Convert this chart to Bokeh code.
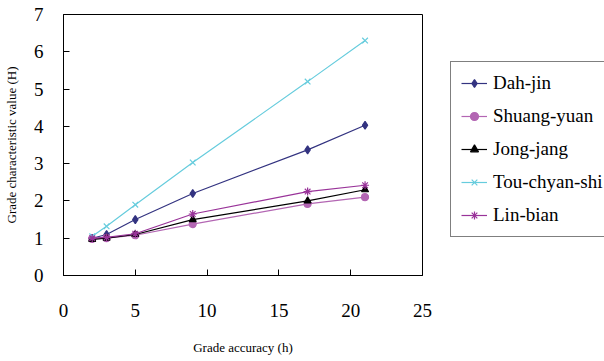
from bokeh.plotting import figure
from bokeh.models import Range1d, FixedTicker, Legend, LegendItem
from bokeh.embed import file_html
from bokeh.resources import INLINE

x_vals = [2, 3, 5, 9, 17, 21]
dah_jin = [1.00, 1.10, 1.50, 2.20, 3.37, 4.03]
shuang_yuan = [0.98, 1.00, 1.08, 1.38, 1.92, 2.10]
jong_jang = [0.97, 1.00, 1.10, 1.50, 2.00, 2.30]
tou_chyan_shi = [1.05, 1.32, 1.90, 3.03, 5.20, 6.30]
lin_bian = [1.00, 1.02, 1.12, 1.65, 2.25, 2.42]

series_names = ["Dah-jin", "Shuang-yuan", "Jong-jang", "Tou-chyan-shi", "Lin-bian"]
series_vals = [dah_jin, shuang_yuan, jong_jang, tou_chyan_shi, lin_bian]
colors = ["#333380", "#b366b3", "#000000", "#66ccdd", "#993399"]
markers = ["diamond", "circle", "triangle", "x", "asterisk"]
sizes = [8, 7, 7, 8, 8]

x_ticks = [0, 5, 10, 15, 20, 25]
y_ticks = [0, 1, 2, 3, 4, 5, 6, 7]

FONT = "Liberation Serif"

p = figure(frame_width=359, frame_height=261, output_backend="svg", toolbar_location=None,
           x_range=Range1d(0, 25), y_range=Range1d(0, 7),
           min_border_left=62, min_border_right=0, min_border_top=14,
           min_border_bottom=70)
p.grid.visible = False
p.outline_line_color = "black"
p.outline_line_width = 1
p.background_fill_color = "white"
p.border_fill_color = "white"

p.xaxis.ticker = FixedTicker(ticks=x_ticks)
p.yaxis.ticker = FixedTicker(ticks=y_ticks)
for ax in (p.xaxis, p.yaxis):
    ax.axis_line_color = "black"
    ax.major_tick_in = 6
    ax.major_tick_out = 0
    ax.minor_tick_line_color = None
    ax.major_tick_line_color = "black"
    ax.major_label_text_font = FONT
    ax.major_label_text_font_size = "19px"
    ax.major_label_text_color = "black"
    ax.axis_label_text_font = FONT
    ax.axis_label_text_font_size = "13px"
    ax.axis_label_text_font_style = "normal"
    ax.axis_label_text_color = "black"

p.xaxis.axis_label = "Grade accuracy (h)"
p.xaxis.major_label_standoff = 28
p.xaxis.axis_label_standoff = 20
p.yaxis.axis_label = "Grade characteristic value (H)"
p.yaxis.major_label_standoff = 20
p.yaxis.axis_label_standoff = 12

items = []
for name, vals, c, m, s in zip(series_names, series_vals, colors, markers, sizes):
    r1 = p.line(x_vals, vals, line_color=c, line_width=1.2)
    r2 = p.scatter(x_vals, vals, marker=m, size=s, line_color=c, fill_color=c, line_width=1.2)
    items.append(LegendItem(label=name, renderers=[r1, r2]))

legend = Legend(items=items, location=(28, 38))
legend.label_text_font = FONT
legend.label_text_font_size = "19px"
legend.label_text_color = "black"
legend.glyph_width = 26
legend.glyph_height = 20
legend.label_height = 20
legend.label_standoff = 6
legend.spacing = 11
legend.padding = 10
legend.margin = 0
legend.border_line_color = "black"
legend.border_line_width = 1
legend.background_fill_alpha = 1
p.add_layout(legend, "right")

open("out.html", "w").write(file_html(p, INLINE))
